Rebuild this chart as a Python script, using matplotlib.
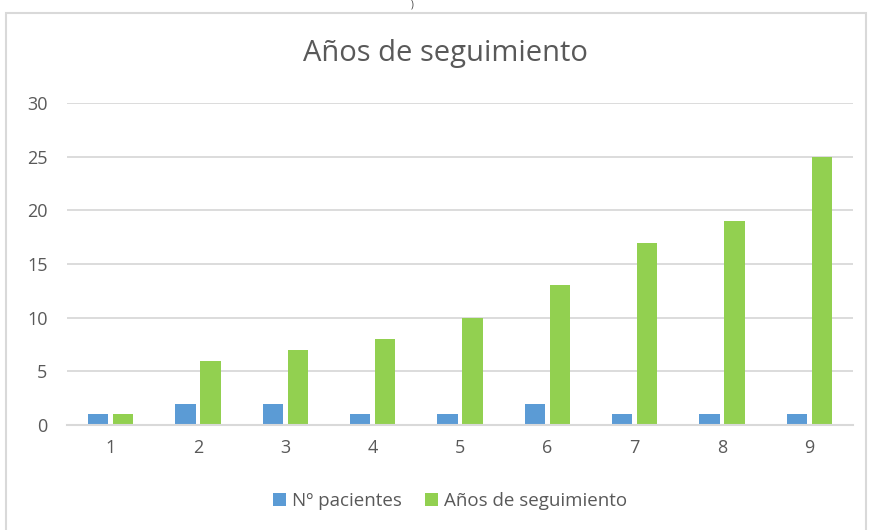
import matplotlib.pyplot as plt
import numpy as np
from matplotlib.patches import Rectangle

plt.rcParams['font.family'] = ['Open Sans', 'DejaVu Sans']

categorias = ['1', '2', '3', '4', '5', '6', '7', '8', '9']
pacientes = [1, 2, 2, 1, 1, 2, 1, 1, 1]
anos_seguimiento = [1, 6, 7, 8, 10, 13, 17, 19, 25]
yticks = [0, 5, 10, 15, 20, 25, 30]

azul = '#5B9BD5'
verde = '#92D050'
gris_texto = '#595959'
gris_linea = '#D9D9D9'

fig = plt.figure(figsize=(8.69, 5.30), dpi=100)

# marco del grafico
fig.patches.append(Rectangle((6 / 869, -0.02), 860 / 869, 1 - 13 / 530 + 0.02,
                             transform=fig.transFigure, fill=False,
                             edgecolor=gris_linea, linewidth=1.5))
fig.text(412 / 869, 1 - 5 / 530, ')', ha='center', va='center', fontsize=7,
         color='#404040')

ax = fig.add_axes([67 / 869, 1 - 425 / 530, 786 / 869, 322 / 530])

x = np.arange(len(categorias))
ancho = 0.23
sep = 0.143
ax.bar(x - sep, pacientes, ancho, color=azul, label='Nº pacientes', zorder=3)
ax.bar(x + sep, anos_seguimiento, ancho, color=verde,
       label='Años de seguimiento', zorder=3)

ax.set_xlim(-0.5, len(categorias) - 0.5)
ax.set_ylim(0, 30)
ax.set_yticks(yticks)
ax.set_xticks(x)
ax.set_xticklabels(categorias)
ax.grid(axis='y', color=gris_linea, linewidth=1.3, zorder=0)
ax.tick_params(length=0, labelsize=13, colors=gris_texto)
ax.tick_params(axis='y', pad=14)
ax.tick_params(axis='x', pad=10)
for lado in ['top', 'right', 'left']:
    ax.spines[lado].set_visible(False)
ax.spines['bottom'].set_color(gris_linea)
ax.spines['bottom'].set_linewidth(1.5)
ax.spines['bottom'].set_zorder(4)

fig.text(445 / 869, 1 - 54 / 530, 'Años de seguimiento', ha='center',
         va='center', fontsize=21, color=gris_texto)

fig.legend(loc='center', bbox_to_anchor=(450 / 869, 1 - 501 / 530), ncol=2,
           frameon=False, fontsize=13.5, labelcolor=gris_texto,
           handlelength=0.7, handleheight=0.7, handletextpad=0.35,
           columnspacing=1.2)

fig.savefig('out.png', dpi=100)
